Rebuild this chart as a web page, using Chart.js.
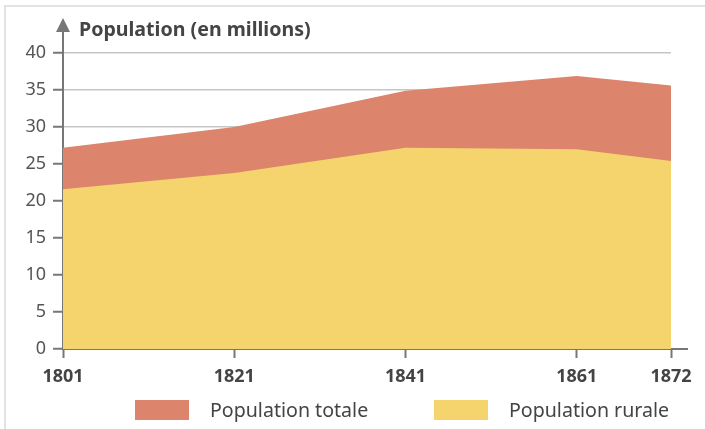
<!DOCTYPE html>
<html>
<head>
<meta charset="utf-8">
<script src="https://cdn.jsdelivr.net/npm/chart.js@4"></script>
<style>
  html, body { margin: 0; padding: 0; background: #fff; }
  #wrap { position: relative; width: 705px; height: 429px; }
  #frame { position: absolute; left: 4px; top: 5px; right: 0; bottom: 0;
           border-left: 2px solid #e2e2e2; border-top: 2px solid #e2e2e2; }
  canvas { position: absolute; left: 0; top: 0; }
</style>
</head>
<body>
<div id="wrap">
  <div id="frame"></div>
  <canvas id="pop" width="705" height="429"></canvas>
</div>
<script>
// annees du recensement
var years = [1801, 1821, 1841, 1861, 1872];
// population en millions
var totale = [27.2, 30.0, 34.9, 36.9, 35.6];
var rurale = [21.6, 23.8, 27.2, 27.0, 25.4];
var yTicks = [0, 5, 10, 15, 20, 25, 30, 35, 40];

var FONT = "'Noto Sans', 'Open Sans', sans-serif";
var C_TOT = '#dc856c';
var C_RUR = '#f5d46e';

function toPoints(values){
  var pts = [];
  for (var i = 0; i < years.length; i++) {
    pts.push({x: years[i], y: values[i]});
  }
  return pts;
}

// fleche de l'axe y + titre + prolongement de l'axe x + legende
var axisDeco = {
  id: 'axisDeco',
  afterDraw: function(chart){
    var ctx = chart.ctx;
    var a = chart.chartArea;
    ctx.save();
    ctx.strokeStyle = '#777';
    ctx.fillStyle = '#777';
    ctx.lineWidth = 2;
    ctx.beginPath();
    ctx.moveTo(a.left, a.top);
    ctx.lineTo(a.left, 30);
    ctx.stroke();
    ctx.beginPath();
    ctx.moveTo(a.left - 7, 32);
    ctx.lineTo(a.left + 7, 32);
    ctx.lineTo(a.left, 18);
    ctx.closePath();
    ctx.fill();
    ctx.beginPath();
    ctx.moveTo(a.right, a.bottom);
    ctx.lineTo(a.right + 17, a.bottom);
    ctx.stroke();
    ctx.fillStyle = '#444';
    ctx.font = 'bold 19.6px ' + FONT;
    ctx.textBaseline = 'middle';
    ctx.fillText('Population (en millions)', 79, 30);

    // legende
    var items = [
      {label: chart.data.datasets[1].label, color: C_TOT, x: 135},
      {label: chart.data.datasets[0].label, color: C_RUR, x: 434}
    ];
    ctx.font = '19.6px ' + FONT;
    items.forEach(function(it){
      ctx.fillStyle = it.color;
      ctx.fillRect(it.x, 400, 54, 20);
      ctx.fillStyle = '#444';
      ctx.fillText(it.label, it.x + 75, 411);
    });
    ctx.restore();
  }
};

function init(){
  var ctx = document.getElementById('pop');
  new Chart(ctx, {
    type: 'line',
    data: {
      datasets: [{
        label: 'Population rurale',
        data: toPoints(rurale),
        backgroundColor: C_RUR,
        borderWidth: 0,
        pointRadius: 0,
        fill: 'origin',
        tension: 0
      }, {
        label: 'Population totale',
        data: toPoints(totale),
        backgroundColor: C_TOT,
        borderWidth: 0,
        pointRadius: 0,
        fill: 'origin',
        tension: 0
      }]
    },
    options: {
      responsive: false,
      animation: false,
      layout: { padding: { top: 53, right: 34, left: 0, bottom: 0 } },
      scales: {
        x: {
          type: 'linear',
          min: 1801,
          max: 1872,
          afterBuildTicks: function(scale){
            scale.ticks = years.map(function(y){ return {value: y}; });
          },
          afterFit: function(scale){ scale.height = 80; },
          border: { color: '#777', width: 2 },
          grid: { drawOnChartArea: false, tickLength: 9, tickColor: '#777', tickWidth: 2 },
          ticks: {
            color: '#444',
            font: { family: FONT, size: 18, weight: 'bold' },
            padding: 8,
            maxRotation: 0,
            callback: function(v){ return String(v); }
          }
        },
        y: {
          min: 0,
          max: 40,
          afterBuildTicks: function(scale){
            scale.ticks = yTicks.map(function(v){ return {value: v}; });
          },
          afterFit: function(scale){ scale.width = 63; },
          border: { color: '#777', width: 2 },
          grid: { color: '#c6c6c6', lineWidth: 1.5, tickLength: 10, tickColor: '#777', tickWidth: 2 },
          ticks: {
            color: '#555',
            font: { family: FONT, size: 18 },
            padding: 7
          }
        }
      },
      plugins: {
        tooltip: { enabled: false },
        legend: { display: false }
      }
    },
    plugins: [axisDeco]
  });
}

init();
</script>
</body>
</html>
